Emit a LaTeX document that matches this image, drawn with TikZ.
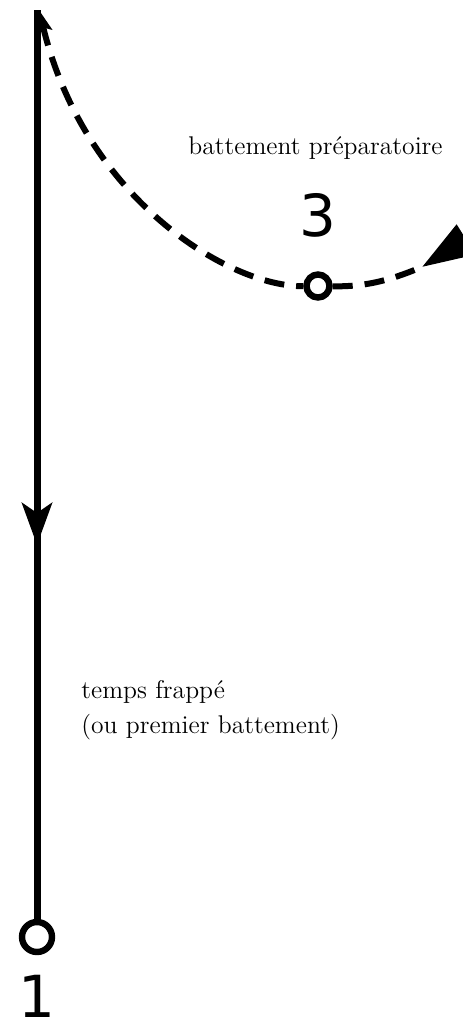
\documentclass[tikz,border=0pt]{standalone}
\usepackage{fontspec}
\usetikzlibrary{arrows.meta}
\newfontfamily\chiffres{DejaVu Sans}
\tikzset{
  trait/.style={line width=3.5pt},
  pointille/.style={line width=3pt,dash pattern=on 10pt off 6pt},
  rond/.style={circle,draw,line width=3.2pt,fill=white,inner sep=0pt},
  legende/.style={font=\fontsize{12.8}{17.5}\selectfont,inner sep=0pt,align=left},
  numero/.style={font=\chiffres\fontsize{29}{29}\selectfont,inner sep=0pt}
}
\begin{document}
\begin{tikzpicture}[x=0.5pt,y=-0.5pt]
\useasboundingbox (0,0) rectangle (462,1023);
% temps frappe
\coordinate (haut) at (37,10);
\coordinate (pointe) at (37,545);
\node[rond,minimum size=15pt] (temps1) at (37,937) {};
\draw[trait] (haut) -- (temps1);
\draw[trait,-{Stealth[length=21pt,width=15pt,inset=5pt]}] (haut) -- (pointe);
\node[numero] (un) at (37,996) {1};
% battement preparatoire
\node[rond,minimum size=11.5pt] (temps3) at (318,286) {};
\coordinate (depart) at (39,10);
\coordinate (fin) at (422,267);
\coordinate (queue) at (486,227);
\draw[pointille,{Stealth[length=11pt,width=8pt,inset=2pt]}-] (depart) .. controls (85,200) and (230,287) .. (temps3);
\draw[pointille] (temps3) .. controls (370,287) and (395,278) .. (fin);
\draw[line width=3pt,-{Stealth[length=26pt,width=17pt,inset=0pt]}] (queue) -- (fin);
\node[numero] (trois) at (318,215) {3};
% textes
\node[legende,anchor=base west] (prep) at (188,154) {battement préparatoire};
\node[legende,anchor=base west] (frappe) at (81,733) {temps frappé\\(ou premier battement)};
\end{tikzpicture}
\end{document}
